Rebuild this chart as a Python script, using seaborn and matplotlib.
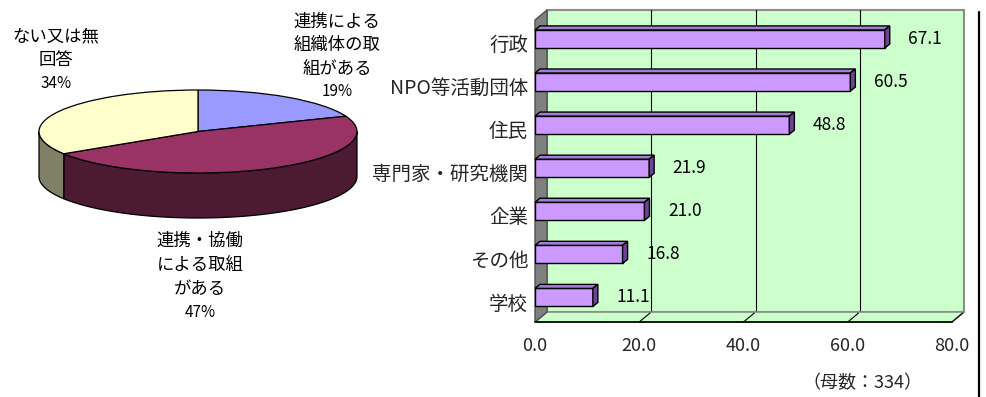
import numpy as np
import matplotlib
matplotlib.use("Agg")
import matplotlib.pyplot as plt
import matplotlib.colors as mcolors
from matplotlib.patches import Polygon
from matplotlib.lines import Line2D
from matplotlib.transforms import ScaledTranslation
import pandas as pd
import seaborn as sns

# Pie: how cooperation is organised
pie_labels = ["連携による\n組織体の取\n組がある", "連携・協働\nによる取組\nがある", "ない又は無\n回答"]
pie_values = [19, 47, 34]
pie_colors = ["#9999FF", "#993366", "#FFFFCC"]

# Bars: cooperation partners (%)
bar_categories = ["行政", "NPO等活動団体", "住民", "専門家・研究機関", "企業", "その他", "学校"]
bar_values = [67.1, 60.5, 48.8, 21.9, 21.0, 16.8, 11.1]
x_ticks = [0, 20, 40, 60, 80]
base_note = "（母数：334）"

sns.set_theme(style="white")
plt.rcParams["font.family"] = ["Noto Sans CJK JP", "DejaVu Sans"]

W, H, DPI = 986, 397, 100
fig = plt.figure(figsize=(W / DPI, H / DPI), dpi=DPI)
fig.patch.set_facecolor("white")


def box(l, t, r, b):
    return [l / W, 1 - b / H, (r - l) / W, (b - t) / H]


def fpos(x, y):
    return x / W, 1 - y / H


# ---------------- 3D-style pie ----------------
cx, cy, ra, rb, depth = 198, 131.5, 159, 41.5, 45
pl, pt, pr, pb = 20, 60, 376, 240
axp = fig.add_axes(box(pl, pt, pr, pb))
wedges, _ = axp.pie(pie_values, startangle=90, counterclock=False,
                    colors=pie_colors,
                    wedgeprops=dict(edgecolor="black", linewidth=0.9))
axp.set_aspect("auto")
axp.set_xlim((pl - cx) / ra, (pr - cx) / ra)
axp.set_ylim((cy - pb) / rb, (cy - pt) / rb)
axp.axis("off")
d = depth / rb
for w, col in zip(wedges, pie_colors):
    w.set_zorder(3)
    t1, t2 = sorted((w.theta1, w.theta2))
    dark = tuple(c * 0.5 for c in mcolors.to_rgb(col))
    for k in range(-2, 3):
        a1 = max(t1 + 360 * k, 180)
        a2 = min(t2 + 360 * k, 360)
        if a2 > a1:
            th = np.radians(np.linspace(a1, a2, 150))
            xs, ys = np.cos(th), np.sin(th)
            pts = np.column_stack([np.r_[xs, xs[::-1]],
                                   np.r_[ys, ys[::-1] - d]])
            axp.add_patch(Polygon(pts, closed=True, facecolor=dark,
                                  edgecolor="black", linewidth=0.9, zorder=2))

# label anchors: (centre x, first line y, line step) in pixels
pie_label_pos = [(337, 22, 23.3), (200, 241, 23.8), (56, 36, 23.8)]
for lab, val, (lx, ly, step) in zip(pie_labels, pie_values, pie_label_pos):
    lines = lab.split("\n") + [f"{val}%"]
    for j, line in enumerate(lines):
        fs = 11 if line.endswith("%") else 12.5
        fig.text(*fpos(lx, ly + j * step), line, ha="center", va="center",
                 fontsize=fs, color="black")

# ---------------- 3D-style horizontal bars ----------------
fl, ft, fr, fb = 535, 20, 952, 322
axb = fig.add_axes(box(fl, ft, fr, fb))
df = pd.DataFrame({"category": bar_categories, "value": bar_values})
sns.barplot(data=df, x="value", y="category", orient="h", color="#CC99FF",
            saturation=1, width=0.42, edgecolor="black", linewidth=1.0,
            ax=axb, zorder=3)
bars = list(axb.patches)

axb.set_xlim(x_ticks[0], x_ticks[-1])
axb.set_ylim(6.57, -0.44)
axb.patch.set_visible(False)
for s in axb.spines.values():
    s.set_visible(False)
axb.set_xlabel("")
axb.set_ylabel("")
axb.set_xticks(x_ticks)
axb.set_xticklabels([f"{v:.1f}" for v in x_ticks], fontsize=13)
axb.tick_params(axis="x", length=0, pad=11)
axb.tick_params(axis="y", length=0, pad=5, labelsize=14)
shift = ScaledTranslation(0, -4 / DPI, fig.dpi_scale_trans)
for lab in axb.get_yticklabels():
    lab.set_transform(lab.get_transform() + shift)

# walls and floor (axes-fraction space, offset for depth)
aw, ah = fr - fl, fb - ft
ox, oy = 12 / aw, 10 / ah
span = x_ticks[-1] - x_ticks[0]
tr = axb.transAxes
axb.add_patch(Polygon([(ox, oy), (1 + ox, oy), (1 + ox, 1 + oy), (ox, 1 + oy)],
                      closed=True, facecolor="#CCFFCC", edgecolor="#8C8C8C",
                      linewidth=1.5, transform=tr, clip_on=False, zorder=0))
for v in x_ticks[1:-1]:
    fx = (v - x_ticks[0]) / span + ox
    axb.add_line(Line2D([fx, fx], [oy, 1 + oy], color="black", linewidth=0.8,
                        transform=tr, clip_on=False, zorder=1))
axb.add_patch(Polygon([(0, 0), (ox, oy), (1 + ox, oy), (1, 0)], closed=True,
                      facecolor="#CCFFCC", edgecolor="#8C8C8C", linewidth=1.2,
                      transform=tr, clip_on=False, zorder=1))
axb.add_patch(Polygon([(0, 1), (ox, 1 + oy), (ox, oy), (0, 0)], closed=True,
                      facecolor="#808080", edgecolor="#505050", linewidth=1.0,
                      transform=tr, clip_on=False, zorder=1.5))
axb.add_line(Line2D([0, 1], [0, 0], color="black", linewidth=1.2,
                    transform=tr, clip_on=False, zorder=1.6))
for v in x_ticks[1:]:
    fx = (v - x_ticks[0]) / span
    axb.add_line(Line2D([fx, fx + ox * 0.9], [0, oy * 0.9], color="black",
                        linewidth=0.8, transform=tr, clip_on=False, zorder=1.6))

# bar depth faces
ddx = 5 / aw * span
ddy = -4 / (ah / 7.01)
for p in bars:
    x0, y0, w, h = p.get_x(), p.get_y(), p.get_width(), p.get_height()
    top = [(x0, y0), (x0 + w, y0), (x0 + w + ddx, y0 + ddy), (x0 + ddx, y0 + ddy)]
    end = [(x0 + w, y0), (x0 + w + ddx, y0 + ddy),
           (x0 + w + ddx, y0 + h + ddy), (x0 + w, y0 + h)]
    axb.add_patch(Polygon(top, closed=True, facecolor="#A57DD8",
                          edgecolor="black", linewidth=1.0, zorder=3.1,
                          clip_on=False))
    axb.add_patch(Polygon(end, closed=True, facecolor="#6E4494",
                          edgecolor="black", linewidth=1.0, zorder=3.1,
                          clip_on=False))

for i, v in enumerate(bar_values):
    axb.annotate(f"{v:.1f}", xy=(v, i), xytext=(17, 0),
                 textcoords="offset points", ha="left", va="center",
                 fontsize=12.5, color="black")

fig.text(*fpos(862, 383), base_note, ha="center", va="center", fontsize=13)
fig.add_artist(Line2D([979 / W, 979 / W], [1 - 12 / H, 0], color="black",
                      linewidth=1.6, transform=fig.transFigure))

fig.savefig("out.png", dpi=DPI, facecolor="white")
